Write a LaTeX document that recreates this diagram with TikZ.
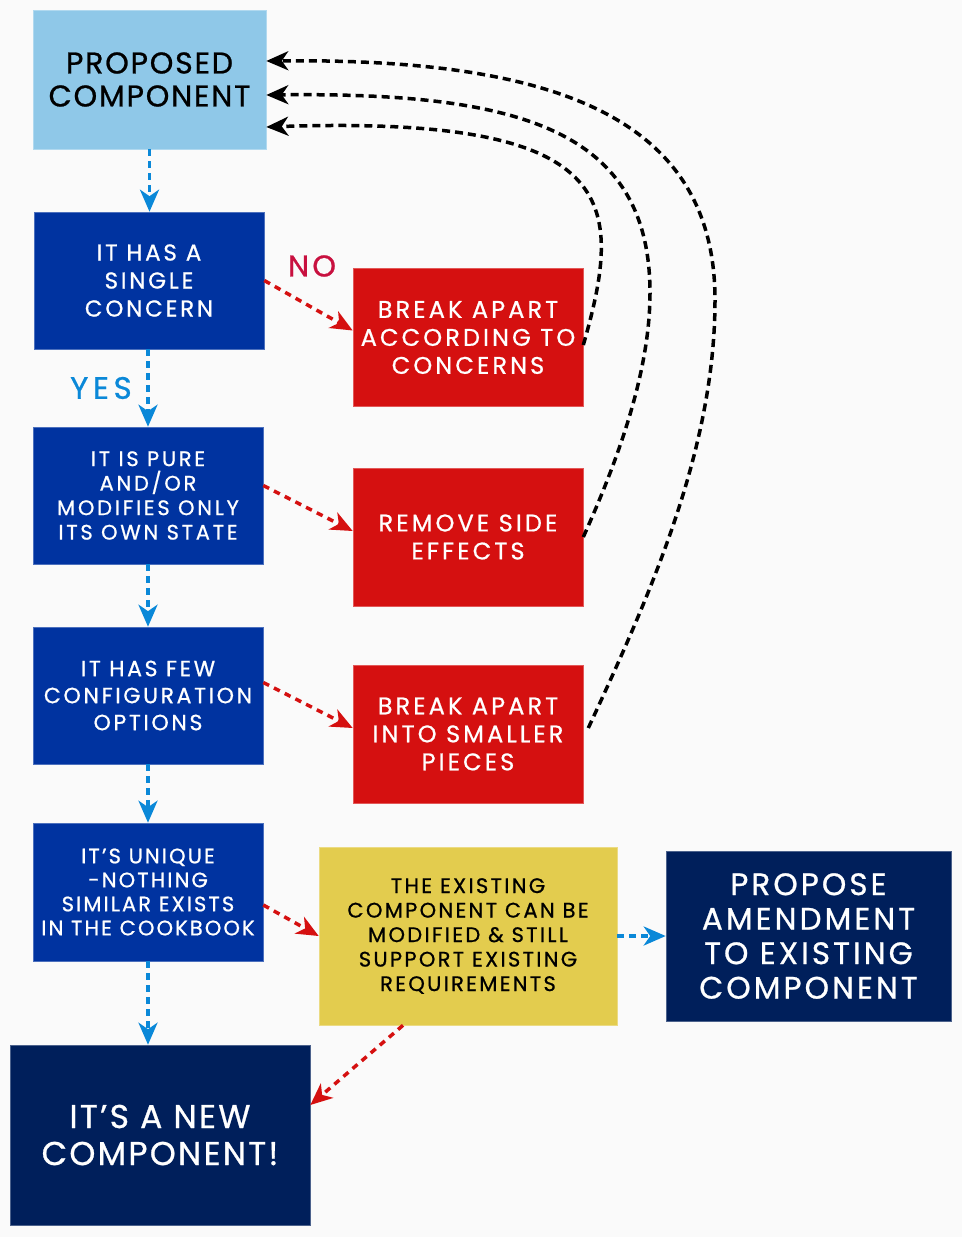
\documentclass[tikz,border=0pt]{standalone}
\usepackage{fontspec}
\setmainfont{Poppins}
\usetikzlibrary{arrows.meta,calc}
\definecolor{bg}{HTML}{FAFAFA}
\definecolor{lblue}{HTML}{8FC8E8}
\definecolor{dblue}{HTML}{0033A0}
\definecolor{cred}{HTML}{D51010}
\definecolor{cyel}{HTML}{E3CC4E}
\definecolor{navy}{HTML}{001F5B}
\definecolor{ablue}{HTML}{0A88D8}
\definecolor{crim}{HTML}{C8103F}
\newcommand\bxfont[3]{\fontsize{#1}{#2}\selectfont\addfontfeatures{LetterSpace=#3,FakeBold=0.8}}
\begin{document}
\begin{tikzpicture}[x=1pt,y=-1pt,
  box/.style={rectangle, inner sep=0pt, align=center, anchor=center},
  bluebox/.style={box, fill=dblue, draw=dblue!70!white, line width=0.6pt, text=white, minimum width=230pt, minimum height=137pt},
  redbox/.style={box, fill=cred, draw=cred!70!white, line width=0.6pt, text=white, minimum width=230pt, minimum height=138pt},
  navybox/.style={box, fill=navy, draw=navy!70!white, line width=0.6pt, text=white},
  tip/.style={-{Stealth[length=22pt,width=19pt,inset=6.5pt]}},
  blueflow/.style={tip, draw=ablue, line width=3.5pt, dash pattern=on 6.5pt off 5.5pt},
  redflow/.style={tip, draw=cred, line width=3.5pt, dash pattern=on 6.5pt off 5.5pt},
  backflow/.style={tip, draw=black, line width=3.5pt, dash pattern=on 8pt off 5pt},
]
\fill[bg] (0,0) rectangle (962,1237);
\useasboundingbox (0,0) rectangle (962,1237);

\node[box, fill=lblue, draw=lblue!70!white, line width=0.6pt, minimum width=233pt, minimum height=139pt, font=\bxfont{30}{33}{6}] (prop) at (149.5,79.5) {PROPOSED\\COMPONENT};
\node[bluebox, font=\bxfont{23}{28}{12}] (single) at (149,280.5) {IT HAS A\\SINGLE\\CONCERN};
\node[redbox, font=\bxfont{24}{28}{13}] (brk1) at (468,337.5) {BREAK APART\\ACCORDING TO\\CONCERNS};
\node[bluebox, font=\bxfont{21}{24.5}{13}] (pure) at (148,495.5) {IT IS PURE\\AND/OR\\MODIFIES ONLY\\ITS OWN STATE};
\node[redbox, font=\bxfont{24}{28}{13}] (rem) at (468,537) {REMOVE SIDE\\EFFECTS};
\node[bluebox, font=\bxfont{22}{27}{12}] (few) at (148,695.5) {IT HAS FEW\\CONFIGURATION\\OPTIONS};
\node[redbox, font=\bxfont{24}{28}{13}] (small) at (468,734) {BREAK APART\\INTO SMALLER\\PIECES};
\node[bluebox, font=\bxfont{21}{24}{10}, minimum height=138pt] (uniq) at (148,892) {IT'S UNIQUE\\-NOTHING\\SIMILAR EXISTS\\IN THE COOKBOOK};
\node[box, fill=cyel, draw=cyel!70!white, line width=0.6pt, minimum width=298pt, minimum height=178pt, font=\bxfont{21}{24.5}{11}] (exist) at (468,936) {THE EXISTING\\COMPONENT CAN BE\\MODIFIED \& STILL\\SUPPORT EXISTING\\REQUIREMENTS};
\node[navybox, minimum width=285pt, minimum height=170pt, font=\bxfont{31}{34.5}{10}] (amend) at (808.5,936) {PROPOSE\\AMENDMENT\\TO EXISTING\\COMPONENT};
\node[navybox, minimum width=300pt, minimum height=180pt, font=\bxfont{33}{37}{7}] (newc) at (160,1135) {IT'S A NEW\\COMPONENT!};

\node[text=crim, font=\bxfont{30}{30}{11}, inner sep=0pt] (no) at (312,266) {NO};
\node[text=ablue, font=\bxfont{31}{30}{15}, inner sep=0pt] (yes) at (101,388) {YES};

% blue flow
\draw[blueflow] (prop.south) -- (prop.south |- single.north);
\draw[blueflow] ([xshift=-1pt]single.south) -- (pure.north);
\draw[blueflow] (pure.south) -- (few.north);
\draw[blueflow] (few.south) -- (uniq.north);
\draw[blueflow] (uniq.south) -- (uniq.south |- newc.north);
\draw[blueflow] (exist.east) -- (amend.west);

% red flow
\draw[redflow] (single.east) -- ([yshift=7pt]brk1.west);
\draw[redflow] ([yshift=10pt]pure.east) -- ([yshift=6pt]rem.west);
\draw[redflow] ([yshift=13pt]few.east) -- ([yshift=6pt]small.west);
\draw[redflow] ([yshift=-13pt]uniq.east) -- (exist.west);
\draw[redflow] ([xshift=-65pt]exist.south) -- ([yshift=30pt]newc.east);

% back flow
\draw[backflow] ([yshift=-7.5pt]brk1.east) .. controls (625,200) and (620,115) .. ([yshift=-47.5pt]prop.east);
\draw[backflow] (rem.east) .. controls (617,462) and (650,373) .. (650,293) .. controls (650,130) and (520,92) .. ([yshift=-15.5pt]prop.east);
\draw[backflow] ([xshift=5pt,yshift=6pt]small.east) .. controls (650,595) and (715,450) .. (715,300) .. controls (715,120) and (560,58) .. ([yshift=18.5pt]prop.east);
\end{tikzpicture}
\end{document}
